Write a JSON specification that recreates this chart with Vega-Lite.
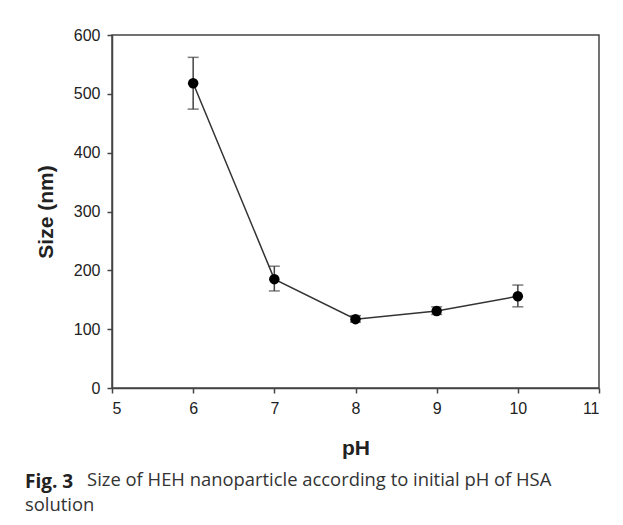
{
  "$schema": "https://vega.github.io/schema/vega-lite/v6.json",
  "autosize": "none",
  "width": 487,
  "height": 353,
  "padding": {"left": 112, "top": 35, "right": 24, "bottom": 137},
  "background": "white",
  "config": {
    "view": {"stroke": "#444", "strokeWidth": 1.5}
  },
  "title": {
    "text": "Fig. 3",
    "subtitle": ["\u200b\u00a0\u00a0\u00a0\u00a0\u00a0\u00a0\u00a0\u00a0\u00a0\u00a0\u00a0\u00a0\u00a0Size of HEH nanoparticle according to initial pH of HSA", "solution"],
    "orient": "bottom",
    "anchor": "start",
    "frame": "group",
    "dx": -87,
    "offset": 15,
    "font": "Open Sans", "fontSize": 19, "fontWeight": "bold", "color": "#222",
    "subtitleFont": "Open Sans", "subtitleFontSize": 18.4, "subtitleColor": "#333", "subtitleFontWeight": "normal",
    "subtitleLineHeight": 25, "subtitlePadding": -21
  },
  "data": {"values": [
    {"pH": 6, "size": 518, "lo": 474, "hi": 562},
    {"pH": 7, "size": 185, "lo": 165, "hi": 207},
    {"pH": 8, "size": 117, "lo": 112, "hi": 123},
    {"pH": 9, "size": 131, "lo": 125, "hi": 138},
    {"pH": 10, "size": 156, "lo": 138, "hi": 175}
  ]},
  "encoding": {
    "x": {"field": "pH", "type": "quantitative", "scale": {"domain": [5, 11], "nice": false},
          "axis": {"values": [5, 6, 7, 8, 9, 10, 11], "title": "pH", "labelPadding": 7, "titlePadding": 21,
                   "labelFont": "Liberation Sans", "labelFontSize": 16, "labelColor": "#222",
                   "titleFont": "Liberation Sans", "titleFontSize": 21, "titleFontWeight": "bold", "titleColor": "#222",
                   "domainColor": "#444", "domainWidth": 1.5, "tickColor": "#444", "tickWidth": 1.5, "tickSize": 5, "grid": false}},
    "y": {"field": "size", "type": "quantitative", "scale": {"domain": [0, 600], "nice": false},
          "axis": {"values": [0, 100, 200, 300, 400, 500, 600], "title": "Size (nm)", "titlePadding": 17,
                   "labelFont": "Liberation Sans", "labelFontSize": 16, "labelColor": "#222", "labelPadding": 7,
                   "titleFont": "Liberation Sans", "titleFontSize": 21, "titleFontWeight": "bold", "titleColor": "#222",
                   "domainColor": "#444", "domainWidth": 1.5, "tickColor": "#444", "tickWidth": 1.5, "tickSize": 5, "grid": false}}
  },
  "layer": [
    {"mark": {"type": "rule", "color": "#444", "strokeWidth": 1.5},
     "encoding": {"y": {"field": "lo", "type": "quantitative"}, "y2": {"field": "hi"}}},
    {"mark": {"type": "tick", "orient": "horizontal", "color": "#444", "size": 11, "thickness": 1.5},
     "encoding": {"y": {"field": "lo", "type": "quantitative"}}},
    {"mark": {"type": "tick", "orient": "horizontal", "color": "#444", "size": 11, "thickness": 1.5},
     "encoding": {"y": {"field": "hi", "type": "quantitative"}}},
    {"mark": {"type": "line", "color": "#333", "strokeWidth": 1.5}},
    {"mark": {"type": "point", "filled": true, "color": "black", "size": 110, "opacity": 1}}
  ]
}
